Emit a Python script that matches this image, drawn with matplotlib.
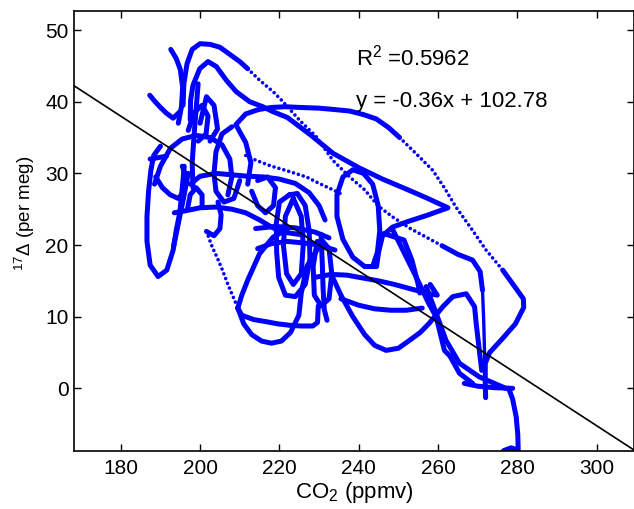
import matplotlib.pyplot as plt

plt.rcParams['font.family'] = ['Liberation Sans', 'DejaVu Sans']
plt.rcParams['mathtext.fontset'] = 'custom'
plt.rcParams['mathtext.rm'] = 'Liberation Sans'
plt.rcParams['mathtext.it'] = 'Liberation Sans:italic'

# fit shown on the chart
slope = -0.36
intercept = 102.78
r2 = 0.5962

xticks = [180, 200, 220, 240, 260, 280, 300]
yticks = [0, 10, 20, 30, 40, 50]
xlim = (168.2, 309.4)
ylim = (-8.7, 52.7)

# traced pieces of the trajectory, (CO2 ppmv, 17D per meg)
top_stem = [(192.6, 47.3), (194.0, 46.0), (195.0, 44.5), (195.6, 42.0), (195.3, 39.3), (194.5, 37.0)]
top_arc = [(195.7, 39.5), (195.9, 42.5), (196.7, 45.3), (198.0, 47.3), (200.0, 48.1), (202.5, 48.0),
           (205.0, 47.6), (207.5, 46.6), (210.0, 45.6), (212.0, 44.6)]
top_arc_dots = [(212.0, 44.6), (215.0, 43.0), (218.4, 41.4), (220.9, 40.0), (225.1, 37.4), (229.3, 35.1),
                (233.5, 31.8), (237.7, 29.5), (241.5, 27.7), (245.0, 25.4), (248.6, 23.9), (253.0, 22.3),
                (257.0, 21.1), (261.0, 19.9)]
top_arc_end = [(261.0, 19.9), (265.0, 18.7), (268.7, 17.9), (270.6, 16.3), (271.2, 13.7)]
drop = [(271.2, 13.7), (271.5, 9.5), (271.7, 5.4), (271.8, 1.5), (271.8, -1.2)]

ring_arc = [(212.0, 28.5), (212.8, 31.5), (211.5, 34.3), (209.0, 36.8), (211.5, 38.3), (214.7, 38.9),
            (218.0, 39.2), (221.5, 39.3), (225.1, 39.2), (230.0, 39.1), (234.0, 38.9), (237.7, 38.7),
            (241.2, 38.2), (244.4, 37.6), (247.5, 36.4), (250.3, 35.0)]
outer_dots = [(250.3, 35.0), (254.0, 33.0), (258.7, 30.4), (261.8, 27.8), (264.5, 25.3), (268.5, 22.2),
              (272.1, 19.3), (276.3, 16.5)]
right_loop = [(276.3, 16.5), (279.7, 13.9), (281.5, 12.5), (281.6, 11.3), (279.5, 9.0), (276.0, 6.8),
              (273.0, 5.0), (271.9, 3.5), (271.9, 0.5), (272.0, -1.3)]
tail_bar = [(266.6, 0.7), (270.0, 0.3), (274.0, 0.1), (278.8, 0.0)]
tail_drop = [(277.8, 0.0), (278.8, -1.5), (279.7, -4.0), (280.1, -6.5), (280.2, -8.6), (278.4, -8.3),
             (276.5, -8.7)]

peak45 = [(197.5, 37.5), (197.6, 40.2), (198.2, 42.3), (199.9, 44.6), (202.0, 45.6), (204.1, 44.9),
          (206.6, 43.0), (209.1, 41.4), (212.5, 40.0), (215.8, 39.3), (218.4, 38.6), (222.0, 37.8),
          (228.0, 35.3), (233.5, 32.8), (240.0, 30.8), (246.0, 29.2), (252.0, 27.8), (257.0, 26.6),
          (262.5, 25.2), (257.5, 24.2), (252.5, 23.3), (248.5, 22.5), (246.0, 21.3), (245.0, 19.0),
          (244.5, 17.0), (241.5, 17.0)]
ellipse_mid = [(241.5, 17.0), (238.5, 18.3), (236.0, 20.8), (234.5, 24.0), (234.5, 27.0), (236.0, 29.5),
               (238.5, 30.5), (241.2, 30.0), (243.5, 28.5), (244.9, 25.5), (245.3, 22.0), (244.7, 19.0),
               (243.5, 17.0)]

ear = [(187.3, 40.9), (188.5, 40.1), (190.0, 39.2), (191.5, 38.4), (193.2, 37.7), (194.9, 38.6)]
left_loop = [(196.0, 31.0), (195.5, 28.0), (194.9, 24.6), (194.0, 22.1), (193.2, 19.3), (191.6, 16.5),
             (189.4, 15.6), (187.4, 17.2), (186.6, 20.5), (186.6, 24.0), (187.0, 27.5), (187.6, 30.5),
             (188.3, 32.5), (190.0, 33.8)]
left_v = [(193.3, 19.8), (194.5, 23.0), (195.8, 26.5), (197.0, 30.0)]
stub = [(187.4, 32.0), (189.5, 32.2), (191.5, 32.4)]
upper_loop = [(188.5, 28.5), (190.0, 31.0), (192.5, 33.5), (195.5, 34.8), (199.0, 35.3), (202.5, 35.0),
              (205.5, 34.0), (207.5, 32.0), (208.0, 29.5), (207.0, 27.0)]
band_25 = [(193.5, 24.5), (196.5, 24.8), (200.0, 25.2), (204.0, 25.3), (208.0, 25.0), (211.5, 24.5),
           (215.0, 23.5), (218.0, 22.5), (221.0, 21.8), (226.0, 21.4)]
band_29 = [(197.5, 28.5), (200.0, 29.6), (204.0, 30.0), (208.0, 29.8), (212.0, 29.6), (216.0, 29.5),
           (220.0, 29.2), (224.0, 28.6), (227.5, 27.3), (230.0, 25.5), (231.5, 23.5)]
band_22 = [(214.0, 22.3), (219.0, 22.6), (224.0, 22.4), (229.0, 21.8), (232.5, 21.0)]
hook = [(204.5, 26.0), (205.3, 24.2), (205.0, 22.3), (203.5, 21.3), (201.6, 21.9)]
hook_dots = [(201.6, 21.9), (203.0, 19.8), (204.5, 18.0), (205.7, 16.4), (207.0, 14.5), (208.3, 12.8),
             (209.5, 11.2)]
band_9 = [(209.5, 11.2), (210.5, 10.2), (213.5, 9.6), (216.7, 9.3), (219.6, 9.0), (222.6, 8.8),
          (225.5, 8.7), (228.4, 8.7), (229.6, 9.2), (229.8, 11.5)]
low_loop = [(209.5, 11.2), (211.0, 9.0), (213.0, 7.5), (215.5, 6.6), (218.0, 6.3), (220.5, 6.6),
            (222.8, 7.8), (224.9, 10.2), (225.5, 13.3), (226.9, 17.0), (230.0, 19.8)]
big_left = [(209.5, 11.2), (210.5, 13.0), (212.0, 15.1), (215.0, 18.8), (218.4, 21.1), (222.0, 22.2)]
oval_a = [(222.5, 27.0), (220.0, 26.0), (219.2, 23.0), (219.3, 19.0), (219.8, 15.5), (221.5, 13.0),
          (224.0, 12.8), (226.5, 14.5), (227.7, 18.0), (227.5, 22.0), (226.5, 25.5), (224.5, 27.2),
          (222.5, 27.0)]
oval_b = [(223.5, 26.5), (221.5, 24.0), (221.0, 20.0), (221.8, 16.0), (223.5, 14.5), (225.5, 16.0),
          (226.0, 20.0), (225.5, 24.0), (223.5, 26.5)]
oval_c = [(229.5, 20.5), (228.5, 17.0), (228.8, 13.0), (230.5, 11.5), (232.5, 12.5), (233.2, 16.0),
          (232.5, 19.5), (230.5, 20.8)]
band_20 = [(214.5, 19.5), (218.0, 20.2), (222.0, 20.5), (226.0, 20.3), (230.0, 20.0), (234.0, 19.3)]
vert_231 = [(230.5, 21.5), (230.8, 17.5), (231.0, 14.0), (231.3, 11.0), (232.0, 9.5)]
band_15 = [(229.0, 15.5), (233.0, 15.9), (237.0, 15.8), (241.0, 15.4), (245.0, 15.0), (249.0, 14.5),
           (253.0, 13.9), (257.0, 13.3), (259.8, 13.0), (258.0, 14.5)]
band_11 = [(235.5, 12.5), (240.0, 11.6), (244.0, 11.1), (248.0, 10.9), (252.0, 10.9), (256.0, 11.2)]
low_right = [(233.0, 16.0), (235.5, 13.0), (238.5, 10.0), (241.5, 7.5), (244.0, 6.0), (246.9, 5.3),
             (250.0, 5.6), (252.8, 6.7), (255.5, 7.8), (257.8, 9.1), (261.2, 11.4), (263.7, 12.8),
             (267.1, 13.2), (269.2, 11.4), (269.6, 9.1), (270.4, 5.3), (271.0, 2.5)]
diag_a = [(248.6, 22.1), (252.0, 18.3), (255.3, 14.6), (257.5, 12.0), (259.5, 10.0), (261.6, 5.3),
          (263.0, 4.5), (265.4, 2.1), (268.7, 0.7)]
diag_b = [(257.0, 14.2), (259.5, 10.5), (262.0, 6.7), (265.4, 3.5), (270.4, 1.6), (277.1, 0.0)]
side_252 = [(246.3, 21.6), (251.4, 20.7), (253.4, 17.9), (254.9, 14.7), (255.4, 13.3)]
dots_31 = [(211.5, 32.5), (214.2, 31.8), (218.0, 31.0), (221.7, 30.4), (226.8, 29.5), (230.0, 28.6),
           (233.5, 27.7), (236.0, 27.0)]
small_a = [(188.8, 29.5), (190.5, 28.0), (192.5, 27.0), (194.5, 26.5), (196.0, 27.5), (196.5, 29.5),
           (195.5, 31.0)]
small_b = [(196.8, 25.0), (197.5, 27.0), (199.0, 28.0), (200.5, 27.0), (200.5, 25.5)]
ring_t = [(208.0, 36.5), (205.5, 35.5), (204.0, 33.0), (203.5, 30.0), (204.0, 27.5), (206.0, 26.0),
          (208.5, 26.5), (210.0, 29.0)]
loop_w = [(200.0, 37.0), (201.6, 40.7), (203.5, 39.5), (204.4, 36.2), (202.5, 34.5)]
loop_x = [(213.0, 27.5), (214.5, 25.5), (216.5, 24.5), (218.5, 25.5), (219.0, 28.0), (217.0, 29.5),
          (214.5, 29.0)]
stem_u = [(199.5, 42.5), (199.0, 39.0), (198.5, 35.5), (198.0, 31.5), (198.2, 28.0)]
knot_v = [(197.0, 36.0), (198.5, 38.5), (200.5, 39.5), (202.0, 38.0), (201.5, 35.5), (199.5, 34.5)]

solid_parts = [top_stem, top_arc, top_arc_end, ring_arc, right_loop, tail_bar, tail_drop, peak45,
               ellipse_mid, ear, left_loop, left_v, stub, upper_loop, band_25, band_29, band_22, hook,
               band_9, low_loop, big_left, oval_a, oval_b, oval_c, band_20, vert_231, band_15, band_11,
               low_right, diag_a, diag_b, side_252, small_a, small_b, ring_t, loop_w, loop_x, stem_u,
               knot_v]
dotted_parts = [top_arc_dots, outer_dots, hook_dots, dots_31]
thin_parts = [drop]

fig = plt.figure(figsize=(6.34, 5.09), dpi=100)
ax = fig.add_axes([74 / 634, 1 - 450.7 / 509, 560 / 634, 440 / 509])

blue = '#0000ff'
for part in solid_parts:
    xs = [p[0] for p in part]
    ys = [p[1] for p in part]
    ax.plot(xs, ys, color=blue, lw=3.6, solid_capstyle='round', solid_joinstyle='round')
for part in dotted_parts:
    xs = [p[0] for p in part]
    ys = [p[1] for p in part]
    ax.plot(xs, ys, color=blue, lw=2.6, ls=(0, (0.01, 1.4)), dash_capstyle='round')
for part in thin_parts:
    xs = [p[0] for p in part]
    ys = [p[1] for p in part]
    ax.plot(xs, ys, color=blue, lw=2.4, solid_capstyle='round')

# regression line across the full axis
ax.plot(list(xlim), [slope * x + intercept for x in xlim], color='black', lw=1.2)

ax.set_xlim(xlim)
ax.set_ylim(ylim)
ax.set_xticks(xticks)
ax.set_yticks(yticks)
ax.tick_params(direction='in', length=5, width=1, labelsize=15, top=True, right=True)
ax.tick_params(axis='x', pad=6)
ax.tick_params(axis='y', pad=4)
for s in ax.spines.values():
    s.set_linewidth(1.2)

ax.text(239.2, 45.0, 'R$^2$ =%.4f' % r2, fontsize=16, va='baseline')
ax.text(239.2, 39.2, 'y = %.2fx + %.2f' % (slope, intercept), fontsize=16, va='baseline')

fig.text(354 / 634, 1 - 498 / 509, 'CO$_2$ (ppmv)', fontsize=16, ha='center', va='baseline')
fig.text(25 / 634, 1 - 213 / 509, '$^{17}$\u0394 (per meg)', fontsize=13.5, ha='center', va='center',
         rotation=90)

fig.savefig('out.png', dpi=100)
